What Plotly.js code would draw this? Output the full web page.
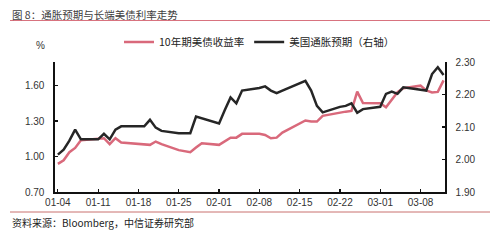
<!DOCTYPE html>
<html>
<head>
<meta charset="utf-8">
<script src="https://cdn.plot.ly/plotly-3.0.1.min.js"></script>
<style>html,body{margin:0;padding:0;background:#fff;}#chart{width:500px;height:240px;}</style>
</head>
<body>
<div id="chart"></div>
<script>
const dates = [
  '2021-01-04','2021-01-05','2021-01-06','2021-01-07','2021-01-08',
  '2021-01-11','2021-01-12','2021-01-13','2021-01-14','2021-01-15',
  '2021-01-19','2021-01-20','2021-01-21','2021-01-22',
  '2021-01-25','2021-01-26','2021-01-27','2021-01-28','2021-01-29',
  '2021-02-01','2021-02-02','2021-02-03','2021-02-04','2021-02-05',
  '2021-02-08','2021-02-09','2021-02-10','2021-02-11','2021-02-12',
  '2021-02-16','2021-02-17','2021-02-18','2021-02-19',
  '2021-02-22','2021-02-23','2021-02-24','2021-02-25','2021-02-26',
  '2021-03-01','2021-03-02','2021-03-03','2021-03-04','2021-03-05',
  '2021-03-08','2021-03-09','2021-03-10','2021-03-11','2021-03-12'
];
const yield10y = [
  0.938,0.969,1.037,1.073,1.138,
  1.147,1.155,1.105,1.155,1.118,
  1.105,1.099,1.127,1.105,
  1.054,1.048,1.037,1.076,1.113,
  1.099,1.127,1.160,1.160,1.192,
  1.192,1.183,1.155,1.160,1.203,
  1.305,1.296,1.296,1.344,
  1.375,1.380,1.386,1.549,1.453,
  1.451,1.417,1.482,1.544,1.578,
  1.600,1.560,1.542,1.547,1.645
];
const inflationExp = [
  2.015,2.030,2.058,2.092,2.062,
  2.062,2.079,2.062,2.092,2.102,
  2.102,2.122,2.098,2.088,
  2.081,2.081,2.081,2.132,2.127,
  2.111,2.152,2.191,2.173,2.212,
  2.220,2.225,2.212,2.204,2.212,
  2.242,2.212,2.165,2.145,
  2.162,2.165,2.173,2.144,2.155,
  2.162,2.202,2.209,2.202,2.222,
  2.214,2.212,2.263,2.284,2.260
];
const xTickVals = ['2021-01-04','2021-01-11','2021-01-18','2021-01-25','2021-02-01','2021-02-08','2021-02-15','2021-02-22','2021-03-01','2021-03-08'];
const xTickText = ['01-04','01-11','01-18','01-25','02-01','02-08','02-15','02-22','03-01','03-08'];
const leftTicks = [0.70,1.00,1.30,1.60];
const rightTicks = [1.90,2.00,2.10,2.20,2.30];
const seriesNames = ['10年期美债收益率','美国通胀预期（右轴）'];
const titleText = '图 8：通胀预期与长端美债利率走势';
const sourceText = '资料来源：Bloomberg，中信证券研究部';

const FONT = 'Liberation Sans, Arial, Noto Sans CJK SC, sans-serif';
const L = 55, R = 445, T = 62, B = 192;
const px2x = p => (p - L) / (R - L);
const py2y = p => (B - p) / (B - T);

const traces = [
  {x: dates, y: yield10y, name: seriesNames[0], type: 'scatter', mode: 'lines',
   line: {color: '#D9697B', width: 2.5}, yaxis: 'y'},
  {x: dates, y: inflationExp, name: seriesNames[1], type: 'scatter', mode: 'lines',
   line: {color: '#262626', width: 2.5}, yaxis: 'y2'}
];

const axisCommon = {
  showline: true, linecolor: '#111', linewidth: 1.6, mirror: false,
  ticks: 'inside', ticklen: 3, tickcolor: '#111', tickwidth: 1.2,
  showgrid: false, zeroline: false,
  tickfont: {family: FONT, size: 10, color: '#333'}
};

const layout = {
  width: 500, height: 240,
  margin: {l: L, r: 500 - R, t: T, b: 240 - B},
  paper_bgcolor: '#fff', plot_bgcolor: '#fff',
  showlegend: true,
  title: {text: titleText, font: {family: 'Noto Sans CJK SC, sans-serif', size: 10.5, color: '#404040'},
          xref: 'container', yref: 'container', x: 12 / 500, xanchor: 'left', y: 1 - 15 / 240, yanchor: 'middle'},
  legend: {orientation: 'h', x: px2x(119), xanchor: 'left', y: py2y(42), yanchor: 'middle',
           font: {family: 'Noto Sans CJK SC, sans-serif', size: 10.5, color: '#222'},
           bgcolor: 'rgba(0,0,0,0)', itemwidth: 30, tracegroupgap: 0},
  xaxis: Object.assign({}, axisCommon, {
    type: 'date', range: ['2021-01-03 12:00', '2021-03-12 06:00'],
    tickmode: 'array', tickvals: xTickVals, ticktext: xTickText
  }),
  yaxis: Object.assign({}, axisCommon, {
    range: [0.70, 1.80], tickmode: 'array', tickvals: leftTicks, tickformat: '.2f',
    ticklabelstandoff: 7
  }),
  yaxis2: Object.assign({}, axisCommon, {
    overlaying: 'y', side: 'right', range: [1.90, 2.30], tickmode: 'array',
    tickvals: rightTicks, tickformat: '.2f', ticklabelstandoff: 7
  }),
  shapes: [
    {type: 'line', xref: 'paper', yref: 'paper', x0: px2x(10), x1: px2x(490), y0: py2y(20.5), y1: py2y(20.5),
     line: {color: '#D8737F', width: 1}},
    {type: 'line', xref: 'paper', yref: 'paper', x0: px2x(10), x1: px2x(490), y0: py2y(212), y1: py2y(212),
     line: {color: '#C9706F', width: 1}}
  ],
  annotations: [
    {text: '%', xref: 'paper', yref: 'paper', x: px2x(40), y: py2y(45), xanchor: 'center', yanchor: 'middle',
     showarrow: false, font: {family: FONT, size: 10, color: '#333'}},
    {text: sourceText, xref: 'paper', yref: 'paper', x: px2x(10), y: py2y(222), xanchor: 'left', yanchor: 'middle',
     showarrow: false, font: {family: 'Noto Sans CJK SC, sans-serif', size: 10, color: '#222'}}
  ]
};

Plotly.newPlot('chart', traces, layout, {staticPlot: true, displayModeBar: false});
</script>
</body>
</html>
